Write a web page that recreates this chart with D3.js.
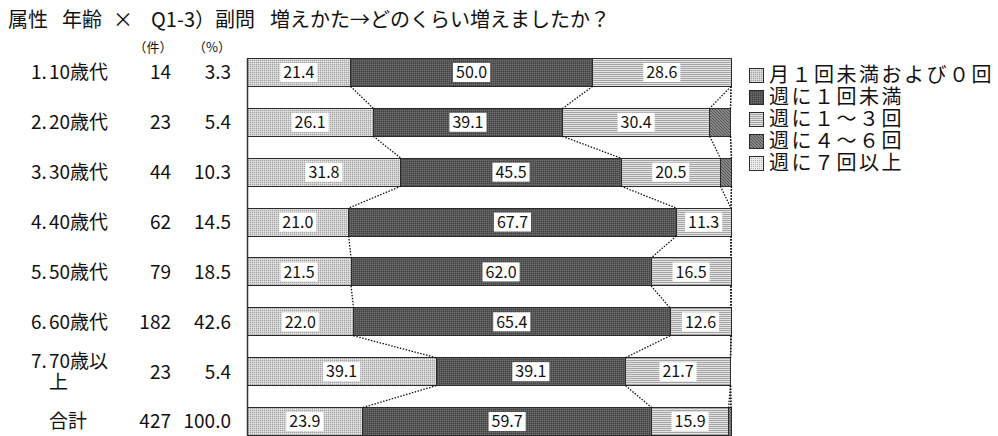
<!DOCTYPE html>
<html>
<head>
<meta charset="utf-8">
<script src="https://cdn.jsdelivr.net/npm/d3@7"></script>
<style>
  html, body { margin: 0; padding: 0; background: #fff; }
  svg { display: block; font-family: "Noto Sans CJK JP", "Noto Sans", sans-serif; }
</style>
</head>
<body>
<svg id="chart" width="998" height="436"></svg>
<script>
// Age groups, respondent counts and their share of the total
const categories = ["1.10歳代", "2.20歳代", "3.30歳代", "4.40歳代", "5.50歳代", "6.60歳代", "7.70歳以上", "合計"];
const counts = [14, 23, 44, 62, 79, 182, 23, 427];
const shares = ["3.3", "5.4", "10.3", "14.5", "18.5", "42.6", "5.4", "100.0"];

// Answer categories (stacked left to right), percentages per age group
const seriesNames = ["月１回未満および０回", "週に１回未満", "週に１～３回", "週に４～６回", "週に７回以上"];
const lessThanMonthly = [21.4, 26.1, 31.8, 21.0, 21.5, 22.0, 39.1, 23.9];
const lessThanWeekly  = [50.0, 39.1, 45.5, 67.7, 62.0, 65.4, 39.1, 59.7];
const weekly1to3      = [28.6, 30.4, 20.5, 11.3, 16.5, 12.6, 21.7, 15.9];
const weekly4to6      = [0.0, 4.3, 2.3, 0.0, 0.0, 0.0, 0.0, 0.5];
const weekly7plus     = [0.0, 0.0, 0.0, 0.0, 0.0, 0.0, 0.0, 0.0];

const title = ["属性", "年齢", "×", "Q1-3）副問", "増えかた→どのくらい増えましたか？"];

const seriesValues = [lessThanMonthly, lessThanWeekly, weekly1to3, weekly4to6, weekly7plus];
const rows = categories.map((c, i) => {
  const r = { cat: c };
  seriesNames.forEach((s, k) => { r[s] = seriesValues[k][i]; });
  return r;
});

const svg = d3.select("#chart");

// ---- fill patterns ----
const defs = svg.append("defs");
function pat(id, w, h, draw) {
  const p = defs.append("pattern").attr("id", id).attr("patternUnits", "userSpaceOnUse")
    .attr("width", w).attr("height", h);
  draw(p);
}
pat("p0", 2, 2, p => {
  p.append("rect").attr("width", 2).attr("height", 2).attr("fill", "#d0d0d0");
  p.append("rect").attr("x", 0).attr("y", 0).attr("width", 1).attr("height", 1).attr("fill", "#a2a2a2");
  p.append("rect").attr("x", 1).attr("y", 1).attr("width", 1).attr("height", 1).attr("fill", "#e4e4e4");
});
pat("p1", 2, 2, p => {
  p.append("rect").attr("width", 2).attr("height", 2).attr("fill", "#575757");
  p.append("rect").attr("x", 0).attr("y", 0).attr("width", 1).attr("height", 1).attr("fill", "#6e6e6e");
  p.append("rect").attr("x", 1).attr("y", 1).attr("width", 1).attr("height", 1).attr("fill", "#444");
});
pat("p2", 4, 2, p => {
  p.append("rect").attr("width", 4).attr("height", 2).attr("fill", "#e4e4e4");
  p.append("rect").attr("y", 0).attr("width", 4).attr("height", 1).attr("fill", "#a4a4a4");
});
pat("p3", 3, 3, p => {
  p.append("rect").attr("width", 3).attr("height", 3).attr("fill", "#8a8a8a");
  p.append("path").attr("d", "M0,0L1,0L1,1L0,1Z M1,1L2,1L2,2L1,2Z M2,2L3,2L3,3L2,3Z").attr("fill", "#505050");
});
pat("p4", 2, 2, p => {
  p.append("rect").attr("width", 2).attr("height", 2).attr("fill", "#ececec");
  p.append("rect").attr("x", 0).attr("y", 0).attr("width", 1).attr("height", 1).attr("fill", "#b0b0b0");
});
const fills = ["url(#p0)", "url(#p1)", "url(#p2)", "url(#p3)", "url(#p4)"];

// ---- scales ----
const x = d3.scaleLinear().domain([0, 100]).range([247, 731]);
const y = d3.scaleBand().domain(categories).range([58.5, 435.5]).paddingInner(0.44).paddingOuter(0);
const bw = y.bandwidth();

const stacked = d3.stack().keys(seriesNames)(rows);

// ---- title ----
const titleX = [8, 62, 113, 151, 270];
svg.append("g").selectAll("text").data(title).join("text")
  .attr("x", (d, i) => titleX[i]).attr("y", 27)
  .attr("font-size", 20).attr("fill", "#111")
  .text(d => d);

// ---- column headers ----
svg.append("text").attr("x", 153).attr("y", 52).attr("text-anchor", "middle")
  .attr("font-size", 13).attr("fill", "#111").text("（件）");
svg.append("text").attr("x", 212).attr("y", 52).attr("text-anchor", "middle")
  .attr("font-size", 13).attr("fill", "#111").text("（%）");

// ---- row labels ----
const labelG = svg.append("g").attr("font-size", 19).attr("fill", "#111");
categories.forEach((c, i) => {
  const cy = y(c) + bw / 2;
  const m = c.match(/^(\d\.)(.*)$/);
  const num = m ? m[1] : "";
  const body = m ? m[2] : c;
  // wrap the body text after 4 characters, hanging under the number
  const lines = body.length > 4 ? [body.slice(0, 4), body.slice(4)] : [body];
  const lh = 21;
  const y0 = cy - (lines.length - 1) * lh / 2;
  if (num) {
    labelG.append("text").attr("x", 31).attr("y", y0).attr("dy", "0.36em").text(num);
  }
  lines.forEach((ln, j) => {
    labelG.append("text").attr("x", 49).attr("y", y0 + j * lh).attr("dy", "0.36em").text(ln);
  });
  labelG.append("text").attr("x", 171).attr("y", cy).attr("dy", "0.36em")
    .attr("text-anchor", "end").text(counts[i]);
  labelG.append("text").attr("x", 231).attr("y", cy).attr("dy", "0.36em")
    .attr("text-anchor", "end").text(shares[i]);
});

// ---- bars ----
const barG = svg.append("g");
stacked.forEach((layer, k) => {
  barG.append("g").selectAll("rect").data(layer.filter(d => d[1] - d[0] > 0)).join("rect")
    .attr("x", d => x(d[0])).attr("y", d => y(d.data.cat))
    .attr("width", d => x(d[1]) - x(d[0])).attr("height", bw)
    .attr("fill", fills[k]).attr("stroke", "#2a2a2a").attr("stroke-width", 1)
    .attr("shape-rendering", "crispEdges");
});

// ---- series connector lines ----
const connG = svg.append("g").attr("stroke", "#111").attr("stroke-width", 1.3)
  .attr("stroke-dasharray", "1.5,1.5").attr("fill", "none");
stacked.forEach(layer => {
  for (let i = 0; i < categories.length - 1; i++) {
    const a = layer[i], b = layer[i + 1];
    connG.append("line")
      .attr("x1", x(a[1])).attr("y1", y(categories[i]) + bw)
      .attr("x2", x(b[1])).attr("y2", y(categories[i + 1]));
  }
});

// ---- left axis line ----
svg.append("g").attr("transform", `translate(${x(0)},0)`)
  .call(d3.axisLeft(y).tickSize(0).tickFormat("").tickSizeOuter(0))
  .call(g => g.select(".domain").attr("stroke", "#333").attr("stroke-width", 1.5));

// ---- value labels ----
const valG = svg.append("g").attr("font-size", 16).attr("fill", "#111");
stacked.forEach(layer => {
  layer.forEach(d => {
    const v = d[1] - d[0];
    if (v < 5) return;
    const cx = (x(d[0]) + x(d[1])) / 2;
    const cy = y(d.data.cat) + bw / 2;
    const t = valG.append("text").attr("x", cx).attr("y", cy).attr("dy", "0.36em")
      .attr("text-anchor", "middle").text(d3.format(".1f")(v));
    const w = t.node().getComputedTextLength();
    valG.insert("rect", () => t.node())
      .attr("x", cx - w / 2 - 3).attr("y", cy - 9.5)
      .attr("width", w + 6).attr("height", 19).attr("fill", "#fff");
  });
});

// ---- legend ----
const leg = svg.append("g").attr("transform", "translate(749,68)");
const li = leg.selectAll("g").data(seriesNames).join("g")
  .attr("transform", (d, i) => `translate(0,${i * 22})`);
li.append("rect").attr("width", 14).attr("height", 14)
  .attr("fill", (d, i) => fills[i]).attr("stroke", "#2a2a2a").attr("shape-rendering", "crispEdges");
li.append("text").attr("x", 20).attr("y", 7).attr("dy", "0.36em")
  .attr("font-size", 20).attr("letter-spacing", 2.5).attr("fill", "#111").text(d => d);
</script>
</body>
</html>
